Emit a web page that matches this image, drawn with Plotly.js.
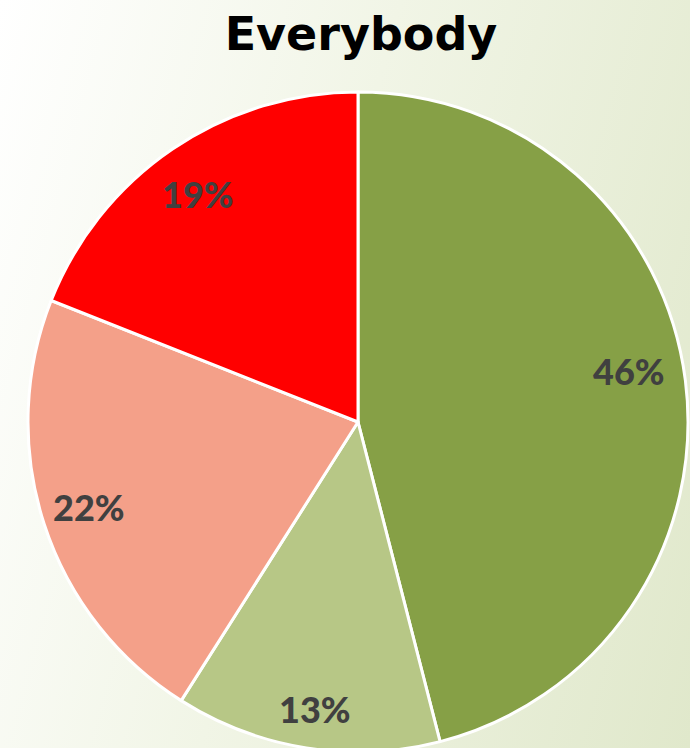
<!DOCTYPE html>
<html>
<head>
<meta charset="utf-8">
<script src="https://cdn.plot.ly/plotly-3.0.1.min.js"></script>
<style>
  html, body { margin: 0; padding: 0; width: 690px; height: 748px; overflow: hidden; }
  body { background: linear-gradient(105deg, #ffffff 0%, #f1f5e6 45%, #e0e8cb 100%); }
  #chart { width: 690px; height: 756px; }
</style>
</head>
<body>
<div id="chart"></div>
<script>
// ---- data ----
const categories = ["A", "B", "C", "D"];
const values = [46, 13, 22, 19];
const labelsText = ["46%", "13%", "22%", "19%"];

// ---- styling ----
const colors = ["#86A046", "#B7C786", "#F4A089", "#FF0000"];
const W = 690, H = 756;
const cx = 358, cy = 422, R = 330;
// label placement (radius fraction, small angular tweak in degrees)
const labelRadius = [0.835, 0.88, 0.855, 0.845];
const labelAngleTweak = [-3.5, -0.5, 0.5, -0.8];

const total = values.reduce((a, b) => a + b, 0);
let cum = 0;
const annotations = values.map((v, i) => {
  const mid = (cum + v / 2) / total * 360 + labelAngleTweak[i];
  cum += v;
  const t = mid * Math.PI / 180;
  const px = cx + labelRadius[i] * R * Math.sin(t);
  const py = cy - labelRadius[i] * R * Math.cos(t);
  return {
    x: px / W, y: 1 - py / H, xref: "paper", yref: "paper",
    text: labelsText[i], showarrow: false,
    xanchor: "center", yanchor: "middle",
    font: { family: "Lato, sans-serif", size: 36, weight: 900, color: "#404040" }
  };
});

const trace = {
  type: "pie",
  labels: categories,
  values: values,
  sort: false,
  direction: "clockwise",
  rotation: 0,
  textinfo: "none",
  hoverinfo: "none",
  marker: { colors: colors, line: { color: "#ffffff", width: 3 } },
  domain: { x: [(cx - R) / W, (cx + R) / W], y: [(H - cy - R) / H, (H - cy + R) / H] }
};

const layout = {
  width: W, height: H,
  margin: { l: 0, r: 0, t: 0, b: 0 },
  paper_bgcolor: "rgba(0,0,0,0)",
  plot_bgcolor: "rgba(0,0,0,0)",
  showlegend: false,
  title: {
    text: "<b>Everybody</b>",
    x: 361 / W, xanchor: "center",
    y: 1 - 34 / H, yanchor: "middle",
    font: { family: "DejaVu Sans, sans-serif", size: 46, color: "#000000" }
  },
  annotations: annotations
};

Plotly.newPlot("chart", [trace], layout, { displayModeBar: false, staticPlot: true });
</script>
</body>
</html>
